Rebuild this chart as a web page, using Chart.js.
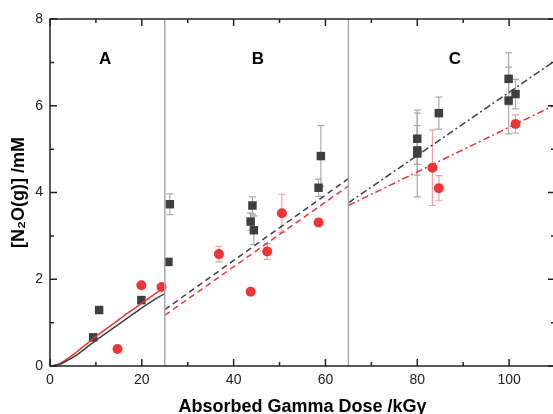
<!DOCTYPE html>
<html>
<head>
<meta charset="utf-8">
<script src="https://cdn.jsdelivr.net/npm/chart.js@4/dist/chart.umd.min.js"></script>
<style>
html,body{margin:0;padding:0;background:#fff;overflow:hidden;}
#wrap{width:600px;height:414px;}
</style>
</head>
<body>
<div id="wrap"><canvas id="c" width="561" height="414"></canvas></div>
<script>
// ---- data ----
const blackX   = [9.4, 10.7, 19.9, 25.8, 26.1, 43.7, 44.1, 44.4, 58.5, 59.0, 80.0, 80.0, 80.0, 84.7, 99.9, 99.9, 101.4];
const blackY   = [0.66, 1.29, 1.52, 2.40, 3.73, 3.33, 3.70, 3.13, 4.11, 4.84, 5.24, 4.97, 4.90, 5.83, 6.62, 6.12, 6.27];
const blackErr = [0.07, 0, 0, 0, 0.24, 0.2, 0.2, 0.33, 0.2, 0.7, 0.59, 0.57, 1.0, 0.37, 0.6, 0.77, 0.34];

const redX   = [14.7, 19.9, 24.3, 36.8, 43.7, 47.3, 50.5, 58.5, 83.3, 84.7, 101.4];
const redY   = [0.39, 1.86, 1.82, 2.58, 1.71, 2.64, 3.52, 3.31, 4.57, 4.10, 5.58];
const redErr = [0, 0, 0, 0.18, 0, 0.18, 0.44, 0.08, 0.87, 0.29, 0.21];

// fitted curves, region A (solid)
const fitAX      = [0, 1, 2, 3, 4, 5, 6, 8, 10, 12, 14, 16, 18, 20, 22, 24, 25];
const fitARedY   = [0, 0.015, 0.05, 0.11, 0.18, 0.26, 0.34, 0.51, 0.68, 0.84, 0.99, 1.15, 1.30, 1.45, 1.60, 1.75, null];
const fitABlackY = [0, 0.01, 0.035, 0.08, 0.14, 0.20, 0.27, 0.43, 0.59, 0.74, 0.89, 1.04, 1.19, 1.34, 1.48, 1.61, 1.66];
// region B (dashed)
const fitBX      = [25, 65];
const fitBBlackY = [1.30, 4.32];
const fitBRedY   = [1.17, 4.15];
// region C (dash-dot)
const fitCX      = [65, 110];
const fitCBlackY = [3.76, 7.04];
const fitCRedY   = [3.70, 6.02];

// region boundaries and labels
const boundaries   = [25, 65];
const regionLabels = ['A', 'B', 'C'];
const regionLabelX = [12, 45.3, 88.2];
const regionLabelY = 7.08;

const xTicks = [0, 20, 40, 60, 80, 100];
const xMinor = [10, 30, 50, 70, 90, 110];
const yTicks = [0, 2, 4, 6, 8];
const yMinor = [1, 3, 5, 7];

// ---- styles ----
const BLACK = '#3f3f3f';
const RED = '#ee3535';
const FONT = "'Liberation Sans', Arial, sans-serif";

function pts(xs, ys) { return xs.map((x, i) => ({x: x, y: ys[i]})).filter(p => p.y !== null); }

const datasets = [];
boundaries.forEach(b => datasets.push({
  type: 'line', data: [{x: b, y: 0}, {x: b, y: 8}], borderColor: '#a8a8a8', borderWidth: 1.5,
  pointRadius: 0, fill: false
}));
datasets.push({type: 'line', data: pts(fitAX, fitABlackY), borderColor: BLACK, borderWidth: 1.5, pointRadius: 0, tension: 0.3, fill: false});
datasets.push({type: 'line', data: pts(fitAX, fitARedY), borderColor: RED, borderWidth: 1.5, pointRadius: 0, tension: 0.3, fill: false});
datasets.push({type: 'line', data: pts(fitBX, fitBBlackY), borderColor: BLACK, borderWidth: 1.5, borderDash: [6, 4], pointRadius: 0, fill: false});
datasets.push({type: 'line', data: pts(fitBX, fitBRedY), borderColor: RED, borderWidth: 1.5, borderDash: [6, 4], pointRadius: 0, fill: false});
datasets.push({type: 'line', data: pts(fitCX, fitCBlackY), borderColor: BLACK, borderWidth: 1.5, borderDash: [7, 3, 2, 3], pointRadius: 0, fill: false});
datasets.push({type: 'line', data: pts(fitCX, fitCRedY), borderColor: RED, borderWidth: 1.5, borderDash: [7, 3, 2, 3], pointRadius: 0, fill: false});
datasets.push({type: 'scatter', data: pts(blackX, blackY), pointStyle: 'rect', pointRadius: 6, pointHoverRadius: 6,
  backgroundColor: BLACK, borderColor: BLACK, borderWidth: 0, errs: blackErr, errColor: '#a9a9a9'});
datasets.push({type: 'scatter', data: pts(redX, redY), pointStyle: 'circle', pointRadius: 5, pointHoverRadius: 5,
  backgroundColor: RED, borderColor: RED, borderWidth: 0, errs: redErr, errColor: '#f3a0a0'});

const decor = {
  id: 'decor',
  beforeDatasetsDraw(chart) {
    const ctx = chart.ctx, xs = chart.scales.x, ys = chart.scales.y;
    chart.data.datasets.forEach(ds => {
      if (!ds.errs) return;
      ctx.save();
      ctx.strokeStyle = ds.errColor; ctx.lineWidth = 1.2;
      ds.data.forEach((p, i) => {
        const e = ds.errs[i];
        if (!e) return;
        const px = xs.getPixelForValue(p.x);
        const t = ys.getPixelForValue(p.y + e), b = ys.getPixelForValue(p.y - e);
        ctx.beginPath();
        ctx.moveTo(px, t); ctx.lineTo(px, b);
        ctx.moveTo(px - 3.5, t); ctx.lineTo(px + 3.5, t);
        ctx.moveTo(px - 3.5, b); ctx.lineTo(px + 3.5, b);
        ctx.stroke();
      });
      ctx.restore();
    });
  },
  afterDraw(chart) {
    const ctx = chart.ctx, a = chart.chartArea, xs = chart.scales.x, ys = chart.scales.y;
    ctx.save();
    ctx.strokeStyle = '#222'; ctx.lineWidth = 1.5;
    ctx.strokeRect(a.left, a.top, a.right - a.left, a.bottom - a.top);
    ctx.beginPath();
    const tx = (v, len) => { const p = xs.getPixelForValue(v);
      ctx.moveTo(p, a.bottom); ctx.lineTo(p, a.bottom - len);
      ctx.moveTo(p, a.top); ctx.lineTo(p, a.top + len); };
    const ty = (v, len) => { const p = ys.getPixelForValue(v);
      ctx.moveTo(a.left, p); ctx.lineTo(a.left + len, p);
      ctx.moveTo(a.right, p); ctx.lineTo(a.right - len, p); };
    xTicks.forEach(v => tx(v, 7)); xMinor.forEach(v => tx(v, 4));
    yTicks.forEach(v => ty(v, 7)); yMinor.forEach(v => ty(v, 4));
    ctx.stroke();
    ctx.fillStyle = '#000';
    ctx.font = 'bold 17px ' + FONT;
    ctx.textAlign = 'center'; ctx.textBaseline = 'middle';
    regionLabels.forEach((l, i) => ctx.fillText(l, xs.getPixelForValue(regionLabelX[i]), ys.getPixelForValue(regionLabelY)));
    ctx.restore();
  }
};

new Chart(document.getElementById('c'), {
  type: 'scatter',
  data: {datasets: datasets},
  options: {
    responsive: false, animation: false,
    layout: {padding: {top: 19, right: 1, left: 0, bottom: 0}},
    plugins: {legend: {display: false}, tooltip: {enabled: false}},
    scales: {
      x: {
        type: 'linear', min: 0, max: 110,
        grid: {display: false, drawTicks: false}, border: {display: false},
        afterBuildTicks: s => { s.ticks = xTicks.map(v => ({value: v})); },
        afterFit: s => { s.height = 48; s.paddingLeft = 0; s.paddingRight = 0; },
        ticks: {padding: 6, color: '#222', font: {family: FONT, size: 14}},
        title: {display: true, text: 'Absorbed Gamma Dose /kGy', color: '#000',
          font: {family: FONT, size: 18, weight: 'bold', lineHeight: 0.8}, padding: {top: 4, bottom: 0}}
      },
      y: {
        type: 'linear', min: 0, max: 8,
        grid: {display: false, drawTicks: false}, border: {display: false},
        afterBuildTicks: s => { s.ticks = yTicks.map(v => ({value: v})); },
        afterFit: s => { s.width = 50; s.paddingTop = 0; s.paddingBottom = 0; },
        ticks: {padding: 7, color: '#222', font: {family: FONT, size: 14}},
        title: {display: true, text: '[N₂O(g)] /mM', color: '#000',
          font: {family: FONT, size: 18, weight: 'bold'}, padding: {top: 8, bottom: 4}}
      }
    }
  },
  plugins: [decor]
});
</script>
</body>
</html>
